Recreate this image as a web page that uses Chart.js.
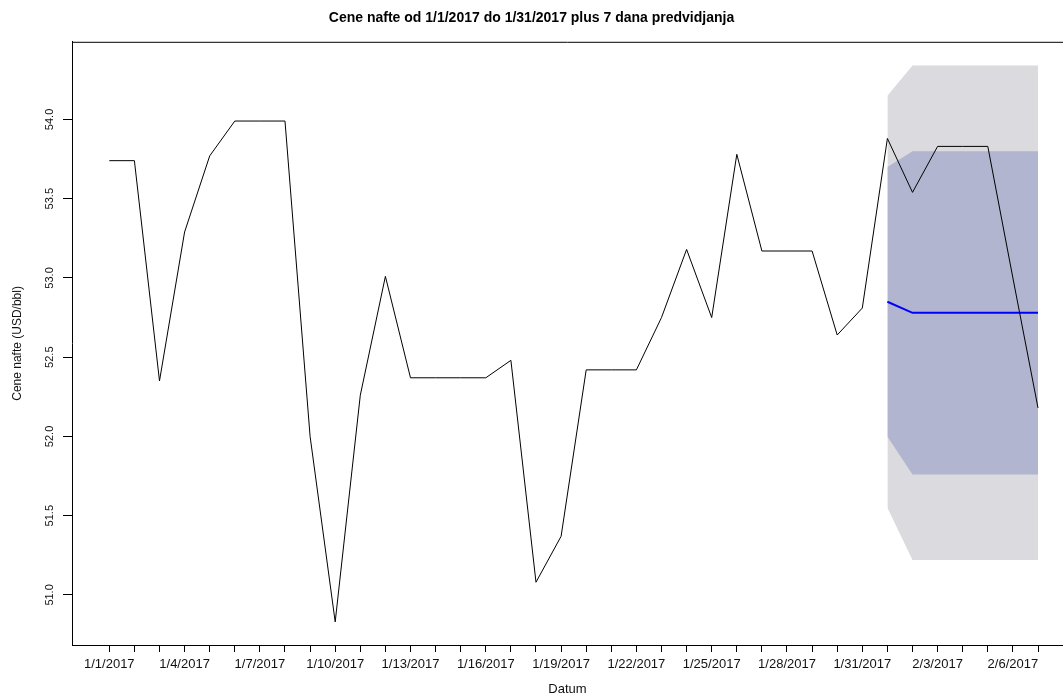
<!DOCTYPE html>
<html>
<head>
<meta charset="utf-8">
<title>Cene nafte</title>
<script src="https://cdn.jsdelivr.net/npm/chart.js@4.4.1/dist/chart.umd.min.js"></script>
<style>
  html, body { margin: 0; padding: 0; background: #fff; overflow: hidden; }
  #wrap { width: 1063px; height: 697px; }
</style>
</head>
<body>
<div id="wrap"><canvas id="naftaChart" width="1063" height="697"></canvas></div>
<script>
// Datumi (kategorije na x osi)
const dates = [
    '1/1/2017', '1/2/2017', '1/3/2017', '1/4/2017', '1/5/2017', '1/6/2017', '1/7/2017',
    '1/8/2017', '1/9/2017', '1/10/2017', '1/11/2017', '1/12/2017', '1/13/2017', '1/14/2017',
    '1/15/2017', '1/16/2017', '1/17/2017', '1/18/2017', '1/19/2017', '1/20/2017', '1/21/2017',
    '1/22/2017', '1/23/2017', '1/24/2017', '1/25/2017', '1/26/2017', '1/27/2017', '1/28/2017',
    '1/29/2017', '1/30/2017', '1/31/2017', '2/1/2017', '2/2/2017', '2/3/2017', '2/4/2017',
    '2/5/2017', '2/6/2017', '2/7/2017'
];

// Stvarne cene (crna linija)
const cena = [
    53.74, 53.74, 52.35, 53.29, 53.77, 53.99, 53.99, 53.99, 52.00, 50.83,
    52.26, 53.01, 52.37, 52.37, 52.37, 52.37, 52.48, 51.08, 51.37, 52.42,
    52.42, 52.42, 52.75, 53.18, 52.75, 53.78, 53.17, 53.17, 53.17, 52.64,
    52.81, 53.88, 53.54, 53.83, 53.83, 53.83, 53.00, 52.18
];

// Predvidjanje za 7 dana (od 2/1/2017)
const forecastStart = 31;
const prognoza = [52.85, 52.78, 52.78, 52.78, 52.78, 52.78, 52.78];
const lo80 = [52.00, 51.76, 51.76, 51.76, 51.76, 51.76, 51.76];
const hi80 = [53.70, 53.80, 53.80, 53.80, 53.80, 53.80, 53.80];
const lo95 = [51.55, 51.22, 51.22, 51.22, 51.22, 51.22, 51.22];
const hi95 = [54.15, 54.34, 54.34, 54.34, 54.34, 54.34, 54.34];

// Podeoci na y osi
const yTicks = [51.0, 51.5, 52.0, 52.5, 53.0, 53.5, 54.0];

const FONT = '"Liberation Sans", Arial, sans-serif';

function toPoints(values, start) {
    return values.map((v, i) => ({ x: start + i, y: v }));
}

// Gornja linija okvira (desna strana je odsecena kao na originalu)
const boxTop = {
    id: 'boxTop',
    afterDraw(chart) {
        const { ctx, chartArea } = chart;
        ctx.save();
        ctx.strokeStyle = '#000';
        ctx.lineWidth = 1;
        ctx.beginPath();
        ctx.moveTo(chartArea.left, chartArea.top + 0.5);
        ctx.lineTo(chart.width, chartArea.top + 0.5);
        ctx.stroke();
        ctx.restore();
    }
};

// Oznake na y osi, rotirane kao u R-u
const yLabels = {
    id: 'yLabels',
    afterDraw(chart) {
        const { ctx } = chart;
        const yScale = chart.scales.y;
        ctx.save();
        ctx.fillStyle = '#111';
        ctx.font = '11px ' + FONT;
        ctx.textAlign = 'center';
        ctx.textBaseline = 'middle';
        yTicks.forEach(v => {
            const py = yScale.getPixelForValue(v);
            ctx.save();
            ctx.translate(50, py);
            ctx.rotate(-Math.PI / 2);
            ctx.fillText(v.toFixed(1), 0, 0);
            ctx.restore();
        });
        ctx.restore();
    }
};

const ctx = document.getElementById('naftaChart');

new Chart(ctx, {
    type: 'line',
    data: {
        datasets: [
            {
                label: 'Cena',
                data: toPoints(cena, 0),
                borderColor: '#000',
                borderWidth: 1,
                pointRadius: 0,
                fill: false,
                order: 0
            },
            {
                label: 'Prognoza',
                data: toPoints(prognoza, forecastStart),
                borderColor: '#0000ff',
                borderWidth: 2,
                pointRadius: 0,
                fill: false,
                order: 1
            },
            {
                label: '80% gornja',
                data: toPoints(hi80, forecastStart),
                borderWidth: 0,
                borderColor: 'rgba(0,0,0,0)',
                backgroundColor: '#b1b5cf',
                pointRadius: 0,
                fill: 3,
                order: 2
            },
            {
                label: '80% donja',
                data: toPoints(lo80, forecastStart),
                borderWidth: 0,
                borderColor: 'rgba(0,0,0,0)',
                pointRadius: 0,
                fill: false,
                order: 2
            },
            {
                label: '95% gornja',
                data: toPoints(hi95, forecastStart),
                borderWidth: 0,
                borderColor: 'rgba(0,0,0,0)',
                backgroundColor: '#dadadf',
                pointRadius: 0,
                fill: 5,
                order: 3
            },
            {
                label: '95% donja',
                data: toPoints(lo95, forecastStart),
                borderWidth: 0,
                borderColor: 'rgba(0,0,0,0)',
                pointRadius: 0,
                fill: false,
                order: 3
            }
        ]
    },
    options: {
        responsive: false,
        animation: false,
        events: [],
        layout: { padding: 0 },
        elements: { line: { tension: 0 } },
        plugins: {
            legend: { display: false },
            tooltip: { enabled: false },
            title: {
                display: true,
                text: 'Cene nafte od 1/1/2017 do 1/31/2017 plus 7 dana predvidjanja',
                color: '#000',
                font: { family: FONT, size: 14, weight: 'bold' },
                padding: { top: 10, bottom: 15 }
            }
        },
        scales: {
            x: {
                type: 'linear',
                min: -1.486,
                max: 37.996,
                afterBuildTicks: scale => {
                    scale.ticks = dates.map((d, i) => ({ value: i }));
                },
                afterFit: scale => { scale.height = 52; },
                ticks: {
                    autoSkip: false,
                    maxRotation: 0,
                    minRotation: 0,
                    padding: 5,
                    color: '#111',
                    font: { family: FONT, size: 13 },
                    callback: value => (value % 3 === 0 ? dates[value] : '')
                },
                grid: {
                    drawOnChartArea: false,
                    drawTicks: true,
                    tickLength: 7,
                    color: '#000'
                },
                border: { display: true, color: '#000', width: 1 },
                title: {
                    display: true,
                    text: 'Datum',
                    color: '#111',
                    font: { family: FONT, size: 13 },
                    padding: 0
                }
            },
            y: {
                type: 'linear',
                min: 50.684,
                max: 54.49,
                afterBuildTicks: scale => {
                    scale.ticks = yTicks.map(v => ({ value: v }));
                },
                afterFit: scale => { scale.width = 72; },
                ticks: {
                    callback: () => ''
                },
                grid: {
                    drawOnChartArea: false,
                    drawTicks: true,
                    tickLength: 9,
                    color: '#000'
                },
                border: { display: true, color: '#000', width: 1 },
                title: {
                    display: true,
                    text: 'Cene nafte (USD/bbl)',
                    color: '#111',
                    font: { family: FONT, size: 12 },
                    padding: { top: 10, bottom: 0 }
                }
            }
        }
    },
    plugins: [boxTop, yLabels]
});
</script>
</body>
</html>
